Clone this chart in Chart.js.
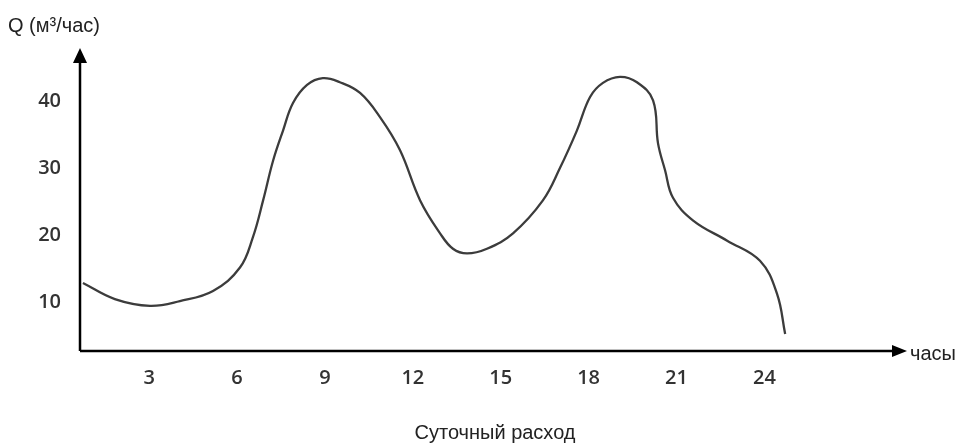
<!DOCTYPE html>
<html>
<head>
<meta charset="utf-8">
<script src="https://cdn.jsdelivr.net/npm/chart.js@4/dist/chart.umd.min.js"></script>
<style>
html,body{margin:0;padding:0;background:#fff;}
#wrap{width:960px;height:445px;position:relative;}
</style>
</head>
<body>
<div id="wrap"><canvas id="c"></canvas></div>
<script>
// Hours of the day (x) and flow Q, m3/h (y)
const hours = [0.74, 1.83, 3.03, 4.05, 5.18, 6.1, 6.54, 6.89, 7.23, 7.57, 7.91, 8.39, 8.93, 9.51, 10.2, 10.88, 11.56, 12.25, 12.93, 13.37, 13.85, 14.53, 15.42, 16.44, 17.03, 17.6, 18.05, 18.49, 19.07, 19.65, 20.2, 20.37, 20.61, 20.88, 21.57, 22.73, 23.85, 24.43, 24.71];
const flow  = [12.9, 10.5, 9.5, 10.2, 11.7, 15.2, 19.7, 25.2, 31.1, 35.6, 39.7, 42.4, 43.4, 42.8, 41.2, 37.6, 32.7, 25.2, 20.3, 18.0, 17.3, 18.0, 20.3, 25.2, 30.1, 35.6, 40.6, 42.7, 43.6, 42.8, 40.1, 33.7, 29.7, 25.6, 22.2, 19.2, 16.2, 11.3, 5.3];
const xTicks = [3, 6, 9, 12, 15, 18, 21, 24];
const yTicks = [10, 20, 30, 40];
const yAxisLabel = 'Q (м³/час)';
const xAxisLabel = 'часы';
const caption = 'Суточный расход';

const points = hours.map((h, i) => ({x: h, y: flow[i]}));

const axesPlugin = {
  id: 'axesArrows',
  afterDraw(chart) {
    const ctx = chart.ctx;
    const a = chart.chartArea;
    ctx.save();
    ctx.strokeStyle = '#000';
    ctx.fillStyle = '#000';
    ctx.lineWidth = 2.5;
    ctx.beginPath();
    ctx.moveTo(a.left, a.bottom);
    ctx.lineTo(a.left, a.top + 10);
    ctx.moveTo(a.left, a.bottom);
    ctx.lineTo(a.right - 10, a.bottom);
    ctx.stroke();
    // y arrow
    ctx.beginPath();
    ctx.moveTo(a.left, a.top);
    ctx.lineTo(a.left - 7, a.top + 15);
    ctx.lineTo(a.left + 7, a.top + 15);
    ctx.closePath();
    ctx.fill();
    // x arrow
    ctx.beginPath();
    ctx.moveTo(a.right + 2, a.bottom);
    ctx.lineTo(a.right - 13, a.bottom - 6);
    ctx.lineTo(a.right - 13, a.bottom + 6);
    ctx.closePath();
    ctx.fill();
    // texts
    ctx.fillStyle = '#222';
    ctx.font = '20px "Liberation Sans", Arial, sans-serif';
    ctx.textBaseline = 'middle';
    ctx.textAlign = 'left';
    ctx.fillText(yAxisLabel, 8, 26);
    ctx.fillText(xAxisLabel, a.right + 5, a.bottom + 3);
    ctx.textAlign = 'center';
    ctx.fillText(caption, 495, 433);
    ctx.restore();
  }
};

new Chart(document.getElementById('c'), {
  type: 'line',
  data: {
    datasets: [{
      data: points,
      borderColor: '#3c3c3c',
      borderWidth: 2.3,
      pointRadius: 0,
      fill: false,
      tension: 0.4
    }]
  },
  options: {
    responsive: true,
    maintainAspectRatio: false,
    animation: false,
    layout: {padding: {top: 48, right: 55, left: 0, bottom: 0}},
    plugins: {legend: {display: false}, tooltip: {enabled: false}, title: {display: false}},
    scales: {
      x: {
        type: 'linear',
        min: 0.64,
        max: 28.8,
        grid: {display: false, drawTicks: false},
        border: {display: false},
        afterBuildTicks: s => { s.ticks = xTicks.map(v => ({value: v})); },
        afterFit: s => { s.height = 94; },
        ticks: {
          padding: 15,
          maxRotation: 0,
          color: '#333',
          font: {family: '"Open Sans", sans-serif', size: 20, weight: '600'}
        }
      },
      y: {
        min: 2.77,
        max: 47.9,
        grid: {display: false, drawTicks: false},
        border: {display: false},
        afterBuildTicks: s => { s.ticks = yTicks.map(v => ({value: v})); },
        afterFit: s => { s.width = 80; },
        ticks: {
          padding: 19,
          color: '#333',
          font: {family: '"Open Sans", sans-serif', size: 20, weight: '600'}
        }
      }
    }
  },
  plugins: [axesPlugin]
});
</script>
</body>
</html>
